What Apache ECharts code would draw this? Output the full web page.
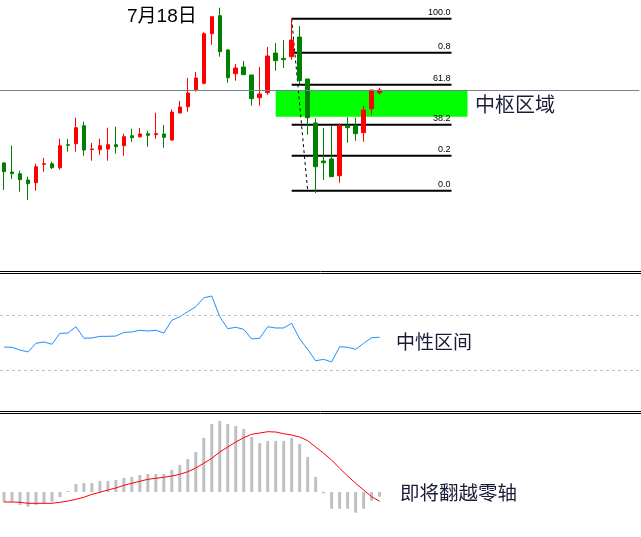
<!DOCTYPE html>
<html><head><meta charset="utf-8">
<script src="https://cdn.jsdelivr.net/npm/echarts@6/dist/echarts.min.js"></script>
<style>html,body{margin:0;padding:0;background:#fff}#c{width:641px;height:537px}</style>
</head><body><div id="c"></div>
<script>
// ---- price bars (hourly candles) ----
const opens  = [1210.70,1209.80,1209.63,1209.00,1208.73,1210.57,1210.63,1210.23,1212.53,1212.63,
                1214.43,1212.04,1212.03,1212.10,1212.53,1212.43,1213.43,1213.33,1213.63,1213.53,
                1213.60,1213.00,1215.70,1216.33,1218.03,1218.67,1223.63,1225.43,1222.00,1219.63,
                1220.30,1219.50,1217.23,1217.73,1221.70,1221.17,1221.33,1223.30,1219.10,1214.70,
                1210.90,1211.10,1209.43,1214.43,1214.43,1213.73,1216.13,1217.73];
const closes = [1209.83,1209.63,1209.03,1208.63,1210.33,1210.63,1210.23,1212.43,1212.47,1214.23,
                1212.00,1212.10,1212.43,1212.53,1212.33,1213.33,1213.23,1213.60,1213.47,1213.63,
                1213.27,1215.80,1216.30,1217.70,1219.20,1223.63,1225.33,1221.83,1219.23,1220.20,
                1219.53,1217.13,1217.60,1221.40,1220.93,1221.03,1223.00,1218.93,1215.23,1210.33,
                1210.73,1209.33,1214.43,1214.23,1213.63,1216.00,1218.00,1218.00];
const lows   = [1208.00,1209.10,1207.83,1207.00,1207.93,1209.83,1210.10,1210.03,1211.83,1211.83,
                1211.43,1210.93,1211.53,1210.93,1211.63,1211.43,1212.83,1213.23,1212.33,1213.13,
                1212.23,1212.93,1215.70,1215.83,1217.83,1218.57,1222.53,1221.33,1218.73,1218.93,
                1219.53,1216.43,1216.43,1217.53,1219.93,1220.20,1221.03,1218.60,1213.53,1207.70,
                1209.00,1209.33,1208.73,1212.73,1212.93,1212.83,1215.53,1217.53];
const highs  = [1210.80,1212.43,1209.93,1209.33,1210.63,1211.20,1210.83,1213.13,1213.10,1215.23,
                1214.83,1212.70,1213.13,1214.23,1214.33,1213.63,1214.13,1214.20,1213.93,1215.73,
                1214.50,1216.07,1216.90,1219.20,1219.80,1223.77,1225.33,1226.23,1222.10,1220.60,
                1220.90,1219.50,1220.30,1222.30,1222.70,1223.00,1225.10,1224.40,1219.10,1215.17,
                1214.20,1214.43,1214.67,1215.27,1215.23,1216.40,1218.00,1218.23];

// ---- RSI ----
const rsi = [46.7,46.5,44.5,43.1,49.4,50.4,48.7,56.7,56.9,61.5,
             53.1,53.3,54.5,54.5,54.7,57.4,57.7,58.9,58.4,58.9,
             56.9,66.2,68.8,72.5,76.1,82.7,83.9,68.8,60.1,61.1,
             59.6,52.6,53.1,61.5,60.6,60.6,64.0,52.6,45.0,36.7,
             37.7,35.8,46.9,46.5,45.0,49.4,53.5,53.8];
const rsiLevels = [70, 30];

// ---- MACD ----
const macdHist = [-1.0,-1.0,-1.3,-1.47,-1.3,-1.13,-0.97,-0.5,0.1,0.8,
                  0.9,0.9,1.1,1.1,1.2,1.4,1.5,1.7,1.8,1.8,
                  1.8,2.2,2.7,3.3,4.0,5.4,6.8,7.1,6.8,6.6,
                  6.3,5.5,4.9,5.1,5.1,5.1,5.4,4.8,3.5,1.5,
                  -0.13,-1.67,-1.67,-1.67,-2.07,-1.67,-0.87,-0.47];
const macdSignal = [-1.0,-1.0,-1.03,-1.13,-1.13,-1.13,-1.13,-1.03,-0.9,-0.73,
                    -0.53,-0.23,-0.03,0.2,0.4,0.67,0.87,1.07,1.27,1.37,
                    1.47,1.6,1.77,2.03,2.4,2.87,3.37,4.0,4.5,5.0,
                    5.43,5.77,5.9,6.03,6.0,5.83,5.7,5.5,5.13,4.5,
                    3.87,3.2,2.37,1.6,0.87,0.2,-0.47,-0.93];

// ---- Fibonacci / annotations ----
const fibLevels = [1225.13, 1221.73, 1218.53, 1214.53, 1211.43, 1207.93];
const fibLabels = ['100.0', '0.8', '61.8', '38.2', '0.2', '0.0'];
const fibFromBar = 36, fibToBar = 56;
const swingFrom = [36, 1225.13], swingTo = [38, 1207.93];
const zoneFromBar = 34, zoneToBar = 58;
const zoneTop = 1217.93, zoneBottom = 1215.33;
const currentPrice = 1218.00;
const titleText = '7月18日';
const zoneText = '中枢区域';
const rsiText = '中性区间';
const macdText = '即将翻越零轴';

const NCAT = 80;
const categories = Array.from({length: NCAT}, (_, i) => 'K' + (i + 1));
const candleData = opens.map((o, i) => [o, closes[i], lows[i], highs[i]]);

const chart = echarts.init(document.getElementById('c'), null, {renderer: 'canvas'});
const GL = -0.7, GW = 8 * NCAT;
const hiddenX = i => ({type: 'category', gridIndex: i, data: categories, boundaryGap: true,
  axisLine: {show: false}, axisTick: {show: false}, axisLabel: {show: false}, splitLine: {show: false}});
const hiddenY = (i, min, max) => ({type: 'value', gridIndex: i, min, max, scale: false,
  axisLine: {show: false}, axisTick: {show: false}, axisLabel: {show: false}, splitLine: {show: false}});

const fibSeries = fibLevels.map((v) => ({
  type: 'line', xAxisIndex: 0, yAxisIndex: 0, z: 1, symbol: 'none', silent: true,
  data: [[fibFromBar, v], [fibToBar, v]],
  lineStyle: {color: '#000', width: 2}
}));

chart.setOption({
  animation: false,
  backgroundColor: '#fff',
  grid: [
    {left: GL, top: 0, width: GW, height: 270},
    {left: GL, top: 274, width: GW, height: 137},
    {left: GL, top: 414, width: GW, height: 123}
  ],
  xAxis: [hiddenX(0), hiddenX(1), hiddenX(2)],
  yAxis: [hiddenY(0, 1200, 1227), hiddenY(1, 0, 100), hiddenY(2, -4.5, 7.8)],
  series: [
    ...fibSeries,
    {
      type: 'line', xAxisIndex: 0, yAxisIndex: 0, z: 2, data: [], silent: true,
      markArea: {silent: true, itemStyle: {color: '#00ff00', opacity: 1},
        data: [[{coord: [zoneFromBar, zoneTop]}, {coord: [zoneToBar, zoneBottom]}]]}
    },
    {
      type: 'line', xAxisIndex: 0, yAxisIndex: 0, z: 3, symbol: 'none', silent: true,
      data: [swingFrom, swingTo],
      lineStyle: {color: '#000', width: 1, type: [3, 3]}
    },
    {
      type: 'candlestick', xAxisIndex: 0, yAxisIndex: 0, z: 4, barWidth: 4,
      data: candleData,
      itemStyle: {color: '#ff0000', color0: '#008000', borderColor: '#ff0000', borderColor0: '#008000', borderWidth: 1},
      markLine: {silent: true, symbol: ['none', 'none'], label: {show: false},
        lineStyle: {color: '#6f8398', width: 1, type: 'solid'},
        data: [{yAxis: currentPrice}]}
    },
    {
      type: 'line', xAxisIndex: 1, yAxisIndex: 1, symbol: 'none', data: rsi,
      lineStyle: {color: '#1e90ff', width: 1},
      markLine: {silent: true, symbol: ['none', 'none'], label: {show: false},
        lineStyle: {color: '#c0c0c0', width: 1, type: [3, 3]},
        data: rsiLevels.map(v => ({yAxis: v}))}
    },
    {
      type: 'bar', xAxisIndex: 2, yAxisIndex: 2, data: macdHist, barWidth: 3,
      itemStyle: {color: '#c0c0c0'}
    },
    {
      type: 'line', xAxisIndex: 2, yAxisIndex: 2, symbol: 'none', data: macdSignal, z: 3,
      lineStyle: {color: '#ff0000', width: 1}
    }
  ]
});

const graphics = [];
[271.5, 273.5, 411.5, 413.5].forEach(y => graphics.push({
  type: 'line', shape: {x1: 0, y1: y, x2: 641, y2: y}, style: {stroke: '#000', lineWidth: 1}, silent: true
}));
fibLevels.forEach((v, i) => {
  const p = chart.convertToPixel({gridIndex: 0}, [fibToBar, v]);
  graphics.push({type: 'text', x: p[0] - 1, y: p[1] - 1.5, z: 1, silent: true,
    style: {text: fibLabels[i], fill: '#000', font: '9px "Liberation Sans", Arial, sans-serif',
      textAlign: 'right', textVerticalAlign: 'bottom'}});
});
const cjk = (txt, x, y, size) => ({type: 'text', x, y, z: 10, silent: true,
  style: {text: txt, fill: '#1b1b3a', font: size + 'px "Noto Sans CJK SC", sans-serif',
    textAlign: 'left', textVerticalAlign: 'middle'}});
graphics.push({type: 'text', x: 127, y: 16.5, z: 10, silent: true,
  style: {text: titleText, fill: '#000', font: '19px "Liberation Sans", "Noto Sans CJK SC", sans-serif',
    textAlign: 'left', textVerticalAlign: 'middle'}});
graphics.push(cjk(zoneText, 475, 104, 20));
graphics.push(cjk(rsiText, 396, 342, 19));
graphics.push(cjk(macdText, 400, 492.5, 19.5));
chart.setOption({graphic: graphics});
</script>
</body></html>
